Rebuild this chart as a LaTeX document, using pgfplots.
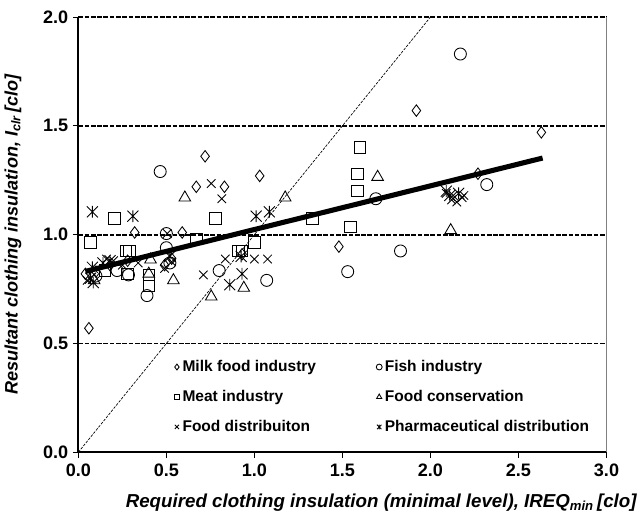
\documentclass[border=0pt]{standalone}
\usepackage{fontspec}
\setmainfont{Liberation Sans}
\usepackage{pgfplots}
\pgfplotsset{compat=1.18}
\pgfdeclareplotmark{xstar}{%
 \pgfpathmoveto{\pgfqpoint{-.75\pgfplotmarksize}{-.75\pgfplotmarksize}}%
 \pgfpathlineto{\pgfqpoint{.75\pgfplotmarksize}{.75\pgfplotmarksize}}%
 \pgfpathmoveto{\pgfqpoint{-.75\pgfplotmarksize}{.75\pgfplotmarksize}}%
 \pgfpathlineto{\pgfqpoint{.75\pgfplotmarksize}{-.75\pgfplotmarksize}}%
 \pgfpathmoveto{\pgfqpoint{0pt}{-.8\pgfplotmarksize}}%
 \pgfpathlineto{\pgfqpoint{0pt}{.8\pgfplotmarksize}}%
 \pgfusepathqstroke}
\begin{document}
\begin{tikzpicture}
\begin{axis}[
  scale only axis, width=395pt, height=325.5pt,
  xmin=0, xmax=3, ymin=0, ymax=2,
  xtick={0,0.5,...,3}, ytick={0,0.5,...,2},
  axis x line*=bottom, axis y line*=left,
  x axis line style={line width=1.4pt, -},
  y axis line style={line width=1.4pt, -},
  tick align=outside, tick style={black, line width=0.8pt}, major tick length=4pt,
  /pgf/number format/assume math mode=true,
  /pgf/number format/.cd, fixed, fixed zerofill, precision=1, /pgfplots/.cd,
  ticklabel style={font=\fontsize{13.5}{15}\selectfont\bfseries},
  xticklabel style={yshift=-1.5pt},
  ymajorgrids, grid style={black, line width=1.3pt, dash pattern=on 3.5pt off 1.2pt},
  xlabel={\fontsize{14}{16}\selectfont\bfseries\itshape Required clothing insulation (minimal level), IREQ\textsubscript{min}\,[clo]},
  ylabel={\fontsize{13.5}{15}\selectfont\bfseries\itshape Resultant clothing insulation, I\textsubscript{clr}\,[clo]},
  xlabel style={yshift=-6pt, xshift=29pt},
  ylabel style={yshift=9.5pt},
  clip=false,
  legend columns=2,
  legend cell align=left,
  legend style={at={(0.173,0.224)}, anchor=north west, draw=none, fill=none,
    font=\fontsize{11.6}{13.5}\selectfont\bfseries, row sep=8.5pt,
    /tikz/every even column/.append style={column sep=43pt}},
  legend image code/.code={\draw[#1, mark size=2.2pt] plot coordinates {(0.12cm,0cm)};},
]
\addplot[only marks, mark=diamond, mark size=4.3pt, black, line width=0.65pt] coordinates {
(0.06,0.57)(0.04,0.82)(0.32,1.01)(0.59,1.01)(0.67,1.22)(0.83,1.22)(0.72,1.36)(1.03,1.27)
(1.92,1.57)(2.63,1.47)(2.27,1.28)(1.48,0.945)(0.53,0.89)(0.49,0.86)(0.18,0.86)(0.10,0.83)
(0.28,0.88)(0.93,0.91)};
\addlegendentry{Milk food industry}
\addplot[only marks, mark=o, mark size=4.5pt, black, line width=0.65pt] coordinates {
(2.17,1.83)(2.32,1.23)(1.69,1.165)(1.83,0.925)(1.53,0.83)(0.465,1.29)(0.50,1.005)(0.50,0.94)
(0.39,0.72)(0.80,0.835)(1.07,0.79)(0.22,0.835)(0.285,0.815)(0.52,0.87)(0.10,0.81)};
\addlegendentry{Fish industry}
\addplot[only marks, mark=square, mark size=4.3pt, black, line width=0.65pt] coordinates {
(1.60,1.40)(1.585,1.28)(1.585,1.20)(1.33,1.075)(1.545,1.035)(0.205,1.075)(0.07,0.965)(0.78,1.075)
(0.67,0.98)(1.0,0.965)(0.27,0.925)(0.29,0.925)(0.91,0.925)(0.93,0.925)(0.40,0.815)(0.40,0.765)
(0.15,0.835)(0.28,0.82)};
\addlegendentry{Meat industry}
\addplot[only marks, mark=triangle, mark size=5pt, black, line width=0.65pt] coordinates {
(0.605,1.17)(1.175,1.17)(1.70,1.265)(2.115,1.02)(0.54,0.79)(0.755,0.715)(0.94,0.755)(0.41,0.885)
(0.40,0.82)(0.09,0.79)};
\addlegendentry{Food conservation}
\addplot[only marks, mark=x, mark size=4.5pt, black, line width=0.65pt] coordinates {
(0.755,1.235)(0.815,1.165)(0.71,0.815)(0.835,0.888)(1.0,0.888)(1.075,0.888)(0.505,1.005)(0.53,0.875)
(0.49,0.845)(0.16,0.888)(0.05,0.79)(0.34,0.87)(0.25,0.86)(2.09,1.19)(2.13,1.18)(2.18,1.17)
(2.12,1.16)(2.15,1.15)(2.19,1.18)(0.20,0.88)};
\addlegendentry{Food distribuiton}
\addplot[only marks, mark=xstar, mark size=5.5pt, black, line width=0.65pt] coordinates {
(0.08,1.105)(0.31,1.085)(1.01,1.085)(1.085,1.105)(0.925,0.90)(0.93,0.82)(0.86,0.77)(0.085,0.78)
(0.07,0.80)(0.08,0.85)(0.18,0.88)(0.14,0.87)(0.52,0.90)(2.09,1.20)(2.11,1.18)(2.16,1.19)};
\addlegendentry{Pharmaceutical distribution}
\addplot[black, line width=0.5pt, dash pattern=on 2pt off 1pt, forget plot] coordinates {(0,0)(2,2)};
\addplot[black, line width=3.8pt, forget plot] coordinates {(0.04,0.831)(2.637,1.352)};
\draw[gray, line width=1.4pt] (rel axis cs:1,0) -- (rel axis cs:1,1);
\path (rel axis cs:0,1) ++(0,12.75pt);
\end{axis}
\end{tikzpicture}
\end{document}
